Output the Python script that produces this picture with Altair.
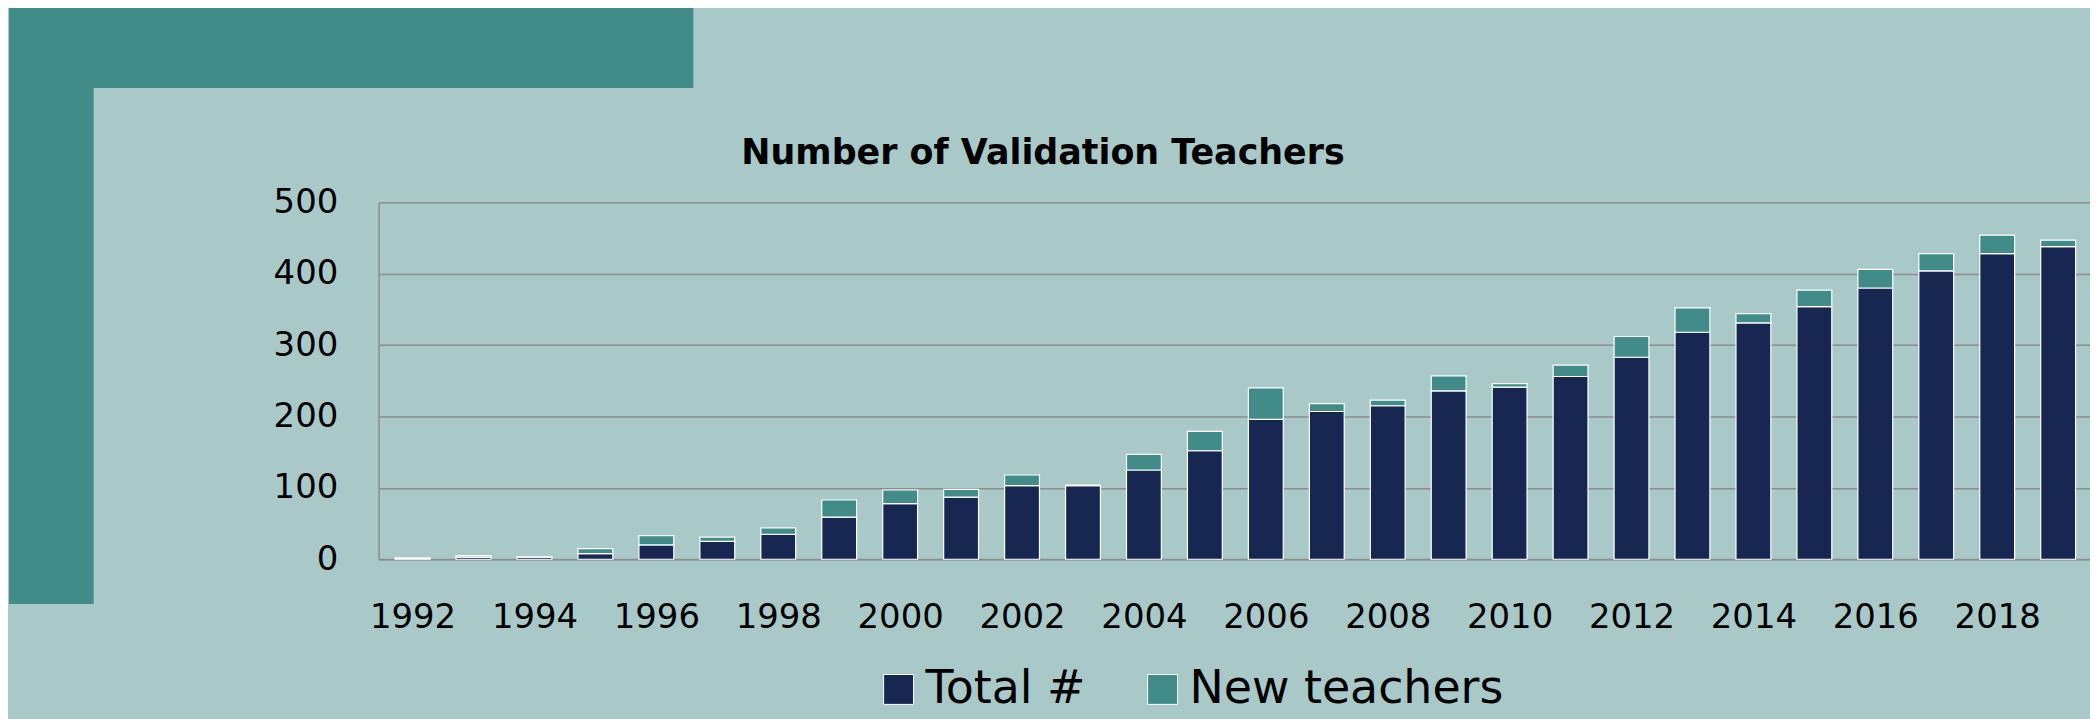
import altair as alt
import pandas as pd

years = list(range(1992, 2020))
total = [1, 3, 3, 8, 20, 25, 35, 59, 78, 87, 103, 103, 125, 152, 196, 207,
         215, 236, 241, 256, 283, 318, 331, 354, 380, 404, 428, 438]
new = [1, 2, 0.5, 7, 13, 6, 9, 24, 19, 11, 15, 1, 22, 27, 44, 11,
       8, 21, 5, 16, 29, 34, 13, 23, 26, 24, 26, 9]
series_names = ["Total #", "New teachers"]
series_colors = ["#172752", "#418C88"]
x_tick_values = list(range(1992, 2019, 2))
y_tick_values = [0, 100, 200, 300, 400, 500]
title_text = "Number of Validation Teachers"

rows = []
for yr, t, n in zip(years, total, new):
    rows.append({"year": yr, "series": series_names[0], "value": t, "ord": 0})
    rows.append({"year": yr, "series": series_names[1], "value": n, "ord": 1})
df = pd.DataFrame(rows)

FONT = "DejaVu Sans"
GRID = "#8C8C8C"
BG = "#A9C9C9"
TEAL = "#418C88"
PLOT_W = 1718
PLOT_H = 358.3

bars = alt.Chart(df).mark_bar(size=35, stroke="white", strokeWidth=1.2).encode(
    x=alt.X(
        "year:Q",
        scale=alt.Scale(domain=[1991.524, 2019.441], nice=False, zero=False),
        axis=alt.Axis(
            values=x_tick_values, format="d", title=None, grid=False,
            ticks=False, tickSize=0, labelFontSize=34, labelFont=FONT,
            labelColor="black", labelPadding=69, labelBaseline="alphabetic",
            labelFlush=False, labelOverlap=False,
            domainColor=GRID, domainWidth=1.5,
        ),
    ),
    y=alt.Y(
        "value:Q",
        stack="zero",
        scale=alt.Scale(domain=[0, 500], nice=False),
        axis=alt.Axis(
            values=y_tick_values, title=None, ticks=False, tickSize=0,
            labelPadding=41, labelFontSize=34, labelFont=FONT,
            labelColor="black", gridColor=GRID, gridWidth=1.5,
            domainColor=GRID, domainWidth=1.5,
        ),
    ),
    color=alt.Color(
        "series:N",
        scale=alt.Scale(domain=series_names, range=series_colors),
        legend=alt.Legend(
            title=None, orient="none", legendX=499, legendY=466,
            direction="horizontal", symbolType="square", symbolSize=900,
            symbolStrokeColor="white", symbolStrokeWidth=1,
            symbolOpacity=1, labelFontSize=46, labelFont=FONT,
            labelColor="black", labelOffset=4, columnPadding=54,
            padding=0, labelLimit=0,
        ),
    ),
    order=alt.Order("ord:Q", sort="ascending"),
)

deco = pd.DataFrame({"k": [0]})
top_band = alt.Chart(deco).mark_rect(color=TEAL).encode(
    x=alt.value(-371), x2=alt.value(316), y=alt.value(-200), y2=alt.value(-114.7)
)
side_band = alt.Chart(deco).mark_rect(color=TEAL).encode(
    x=alt.value(-371), x2=alt.value(-286), y=alt.value(-200), y2=alt.value(403.3)
)
title = alt.Chart(deco).mark_text(
    text=title_text, font=FONT, fontSize=35, fontWeight="bold",
    color="black", align="center", baseline="alphabetic",
).encode(x=alt.value(667), y=alt.value(-38.4))

chart = alt.layer(top_band, side_band, title, bars).properties(
    width=PLOT_W,
    height=PLOT_H,
    autosize=alt.AutoSizeParams(type="none"),
    padding={"left": 372, "top": 193.7, "right": 0, "bottom": 159},
).configure(background=BG, font=FONT).configure_view(strokeWidth=0)

chart.save("out.html", embed_options={"renderer": "svg", "actions": False})
